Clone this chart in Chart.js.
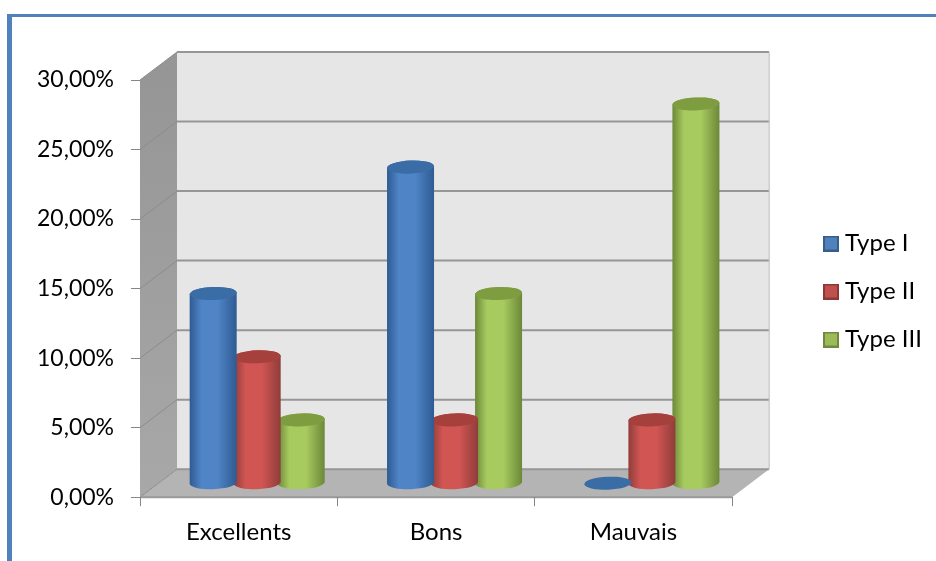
<!DOCTYPE html>
<html lang="fr">
<head>
<meta charset="UTF-8">
<title>Chart</title>
<script src="https://cdn.jsdelivr.net/npm/chart.js"></script>
<style>
    html, body { margin: 0; height: 100%; overflow: hidden; background: #fff; }
    canvas { position: absolute; left: 0; top: 0; }
    #frame {
        position: absolute; left: 7px; top: 14px; right: 0; bottom: 0;
        border-left: 5px solid #4f81bd; border-top: 3px solid #4f81bd;
        pointer-events: none;
    }
</style>
</head>
<body>
<canvas id="chart" width="936" height="561"></canvas>
<div id="frame"></div>
<script>
const categories = ['Excellents', 'Bons', 'Mauvais'];
const typeI = [13.64, 22.73, 0];
const typeII = [9.09, 4.55, 4.55];
const typeIII = [4.55, 13.64, 27.27];
const yTicks = { min: 0, max: 30, step: 5 };

// depth of the fake 3D box
const depthX = 37, depthY = -28;

const shades = [
    { edge: '#2e5b92', mid: '#4f84c6', cap: '#3a6ca6' },
    { edge: '#8f3d3a', mid: '#d05553', cap: '#a5403d' },
    { edge: '#6c8838', mid: '#a8cb60', cap: '#7e9c40' }
];

const box3d = {
    id: 'box3d',
    afterLayout(chart) {
        // legend sits further from the plot than chart.js would put it
        const lg = chart.legend;
        const dx = 805 - lg.left, dy = -28;
        lg.left += dx; lg.right += dx;
        lg.top += dy; lg.bottom += dy;
    },
    beforeDraw(chart) {
        const ctx = chart.ctx, x = chart.scales.x, y = chart.scales.y;
        const l = x.left, r = x.right, top = y.top, bot = y.bottom;
        ctx.save();
        // back wall
        ctx.fillStyle = '#e6e6e6';
        ctx.fillRect(l + depthX, top + depthY, r - l + 1, bot - top);
        // side wall
        const side = ctx.createLinearGradient(0, top, 0, bot);
        side.addColorStop(0, '#969696');
        side.addColorStop(1, '#a8a8a8');
        ctx.fillStyle = side;
        ctx.beginPath();
        ctx.moveTo(l, top);
        ctx.lineTo(l + depthX, top + depthY);
        ctx.lineTo(l + depthX, bot + depthY);
        ctx.lineTo(l, bot);
        ctx.fill();
        // floor
        ctx.fillStyle = '#b4b4b4';
        ctx.beginPath();
        ctx.moveTo(l, bot);
        ctx.lineTo(r, bot);
        ctx.lineTo(r + depthX, bot + depthY);
        ctx.lineTo(l + depthX, bot + depthY);
        ctx.fill();
        // grid lines
        for (let v = yTicks.min; v <= yTicks.max; v += yTicks.step) {
            const py = y.getPixelForValue(v);
            ctx.strokeStyle = '#8c8c8c';
            ctx.lineWidth = 1;
            ctx.beginPath();
            ctx.moveTo(l, py);
            ctx.lineTo(l + depthX, py + depthY);
            ctx.stroke();
            ctx.strokeStyle = '#969696';
            ctx.lineWidth = 2;
            ctx.beginPath();
            ctx.moveTo(l + depthX, py + depthY);
            ctx.lineTo(r + depthX, py + depthY);
            ctx.stroke();
        }
        // right edge of the wall, front edge of the floor
        ctx.strokeStyle = '#c4c4c4';
        ctx.lineWidth = 1;
        ctx.beginPath();
        ctx.moveTo(r + depthX, top + depthY);
        ctx.lineTo(r + depthX, bot + depthY);
        ctx.stroke();
        ctx.strokeStyle = '#9a9a9a';
        ctx.lineWidth = 2;
        ctx.beginPath();
        ctx.moveTo(l, bot);
        ctx.lineTo(r, bot);
        ctx.stroke();
        ctx.restore();
    },
    // bars are replaced by cylinders, taking the place the scales gave them
    beforeDatasetDraw(chart, args) {
        const ctx = chart.ctx, s = shades[args.index];
        const tilt = -0.04, ry = 6.5;
        chart.getDatasetMeta(args.index).data.forEach(bar => {
            const cx = bar.x + depthX / 2, rx = (bar.width + 3) / 2;
            const ty = bar.y + depthY / 2, by = bar.base + depthY / 2;
            ctx.save();
            if (by - ty > 0.5) {
                const g = ctx.createLinearGradient(cx - rx, 0, cx + rx, 0);
                g.addColorStop(0, s.edge);
                g.addColorStop(0.25, s.mid);
                g.addColorStop(0.6, s.mid);
                g.addColorStop(1, s.edge);
                ctx.fillStyle = g;
                ctx.beginPath();
                ctx.moveTo(cx - rx, ty);
                ctx.lineTo(cx - rx, by);
                ctx.ellipse(cx, by, rx, ry, tilt, Math.PI, 0, true);
                ctx.lineTo(cx + rx, ty);
                ctx.ellipse(cx, ty, rx, ry, tilt, 0, Math.PI, true);
                ctx.fill();
            }
            ctx.fillStyle = s.cap;
            ctx.beginPath();
            ctx.ellipse(cx, ty, rx, ry, tilt, 0, Math.PI * 2);
            ctx.fill();
            ctx.restore();
        });
        return false;
    }
};

// 16px legend square, as an image so the text can sit closer than boxWidth allows
function legendIcon(fill, stroke) {
    const c = document.createElement('canvas');
    c.width = 16; c.height = 16;
    const g = c.getContext('2d');
    g.fillStyle = fill;
    g.fillRect(0, 0, 16, 16);
    g.strokeStyle = stroke;
    g.lineWidth = 2;
    g.strokeRect(1, 1, 14, 14);
    return c;
}

Chart.defaults.font.family = 'Lato, "Open Sans", sans-serif';
Chart.defaults.font.size = 24;
Chart.defaults.color = '#000';

function dataset(label, data, color, border) {
    return {
        label, data,
        backgroundColor: color,
        borderColor: border,
        categoryPercentage: 0.669,
        barPercentage: 1,
        pointStyle: legendIcon(color, border)
    };
}

new Chart(document.getElementById('chart'), {
    type: 'bar',
    data: {
        labels: categories,
        datasets: [
            dataset('Type I', typeI, '#4f81bd', '#385d8a'),
            dataset('Type II', typeII, '#c0504d', '#8c3836'),
            dataset('Type III', typeIII, '#9bbb59', '#71893f')
        ]
    },
    options: {
        responsive: false,
        animation: false,
        layout: { padding: { top: 80, bottom: 2, left: 0, right: 77 } },
        plugins: {
            tooltip: { enabled: false },
            legend: {
                position: 'right',
                maxWidth: 140,
                labels: {
                    usePointStyle: true,
                    pointStyleWidth: 4,
                    boxHeight: 16,
                    padding: 24,
                    color: '#000',
                    generateLabels(chart) {
                        return Chart.defaults.plugins.legend.labels.generateLabels(chart).map((item, i) => {
                            item.pointStyle = chart.data.datasets[i].pointStyle;
                            return item;
                        });
                    }
                }
            }
        },
        scales: {
            x: {
                grid: { drawOnChartArea: false, tickLength: 9, color: '#868686', offset: true },
                border: { display: false },
                ticks: { padding: 12 }
            },
            y: {
                min: yTicks.min,
                max: yTicks.max,
                afterFit(s) { s.width = 140; },
                grid: { drawOnChartArea: false, tickLength: 9, color: '#868686' },
                border: { display: false },
                ticks: {
                    stepSize: yTicks.step,
                    padding: 17,
                    font: { size: 23 },
                    callback: v => v.toFixed(2).replace('.', ',') + '%'
                }
            }
        }
    },
    plugins: [box3d]
});
</script>
</body>
</html>
